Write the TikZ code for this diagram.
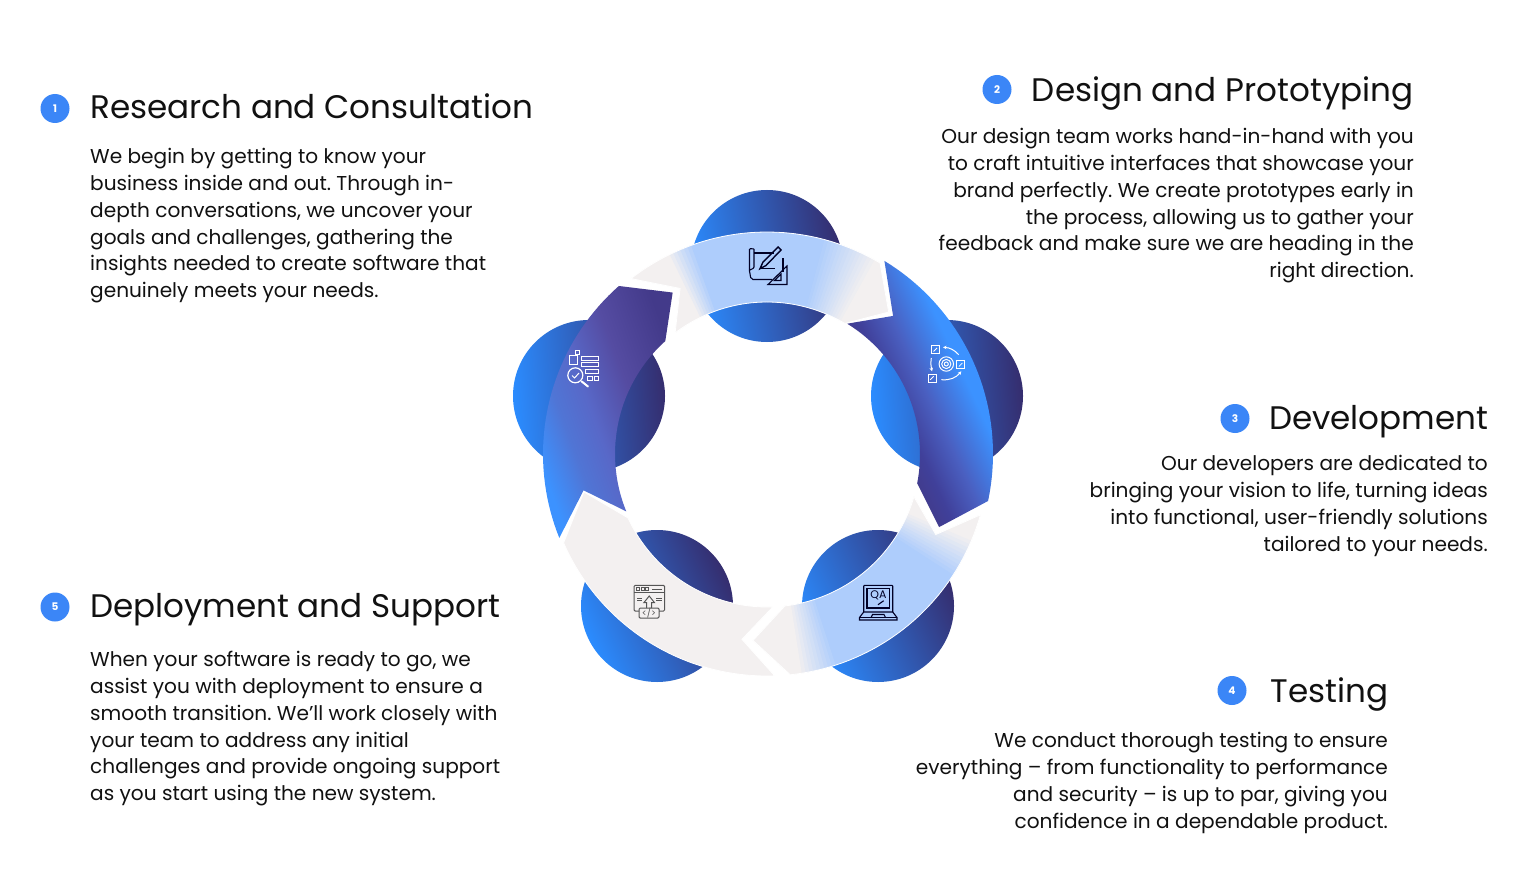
\documentclass[tikz,border=0pt]{standalone}
\usepackage{fontspec}
\usetikzlibrary{arrows.meta}
\setmainfont{Poppins}
\definecolor{inkc}{HTML}{111111}
\definecolor{badgec}{HTML}{3B86F7}
\definecolor{brightc}{HTML}{2B8CFF}
\definecolor{midc}{HTML}{3F57B8}
\definecolor{darkc}{HTML}{352D6E}
\definecolor{abright}{HTML}{3C92FF}
\definecolor{adark}{HTML}{423A88}
\definecolor{rarrowa}{HTML}{40409A}
\definecolor{rarrowb}{HTML}{4A5FC0}
\definecolor{larrowa}{HTML}{5075D5}
\definecolor{larrowb}{HTML}{5868C8}
\definecolor{larrowc}{HTML}{554CA2}
\definecolor{larrowd}{HTML}{433A8A}
\definecolor{paperc}{HTML}{F3F0F0}
\definecolor{skyc}{HTML}{AECDFC}
\definecolor{greyicon}{HTML}{555555}
\pgfdeclarehorizontalshading{rightarrowshade}{100bp}{color(0bp)=(adark); color(42bp)=(adark); color(46bp)=(rarrowa); color(51bp)=(rarrowb); color(58bp)=(abright); color(100bp)=(abright)}
\pgfdeclarehorizontalshading{leftarrowshade}{100bp}{color(0bp)=(abright); color(37bp)=(abright); color(43bp)=(larrowa); color(48bp)=(larrowb); color(55bp)=(larrowc); color(64bp)=(larrowd); color(100bp)=(larrowd)}
\newcommand{\ArrowPath}[8]{plot[domain=#3:#6,samples=40,variable=\x] ({767+#1*sin(\x)},{454-#1*cos(\x)}) -- ({767+187*sin(#7)},{454-187*cos(#7)}) -- plot[domain=#8:#5,samples=40,variable=\x] ({767+#2*sin(\x)},{454-#2*cos(\x)}) -- ({767+187*sin(#4)},{454-187*cos(#4)}) -- cycle}
\tikzset{
  ball/.style={left color=brightc,middle color=midc,right color=darkc},
  heading/.style={inner sep=0pt,text=inkc,font=\fontsize{32.6}{40}\selectfont\frenchspacing},
  bodyl/.style={inner sep=0pt,text=inkc,align=left,anchor=north west,font=\fontsize{20.1}{26.85}\selectfont\frenchspacing},
  bodyr/.style={inner sep=0pt,text=inkc,align=right,anchor=north east,font=\fontsize{20.1}{26.85}\selectfont\frenchspacing},
  badge/.style={circle,fill=badgec,minimum size=29pt,inner sep=0pt,text=white,font=\fontsize{10.5}{10.5}\bfseries\selectfont},
  iconw/.style={draw=white,line width=1pt,fill=none},
  icond/.style={draw=black!85!blue,line width=1.1pt,fill=none},
  icong/.style={draw=greyicon,line width=1pt,fill=none},
}
\begin{document}
\begin{tikzpicture}[x=1pt,y=-1pt]
\useasboundingbox (0,0) rectangle (1536,896);
\fill[white] (0,0) rectangle (1536,896);
% circles
\shade[ball,shading angle=100] (767,266) circle (76);
\shade[ball,shading angle=95] (947,396) circle (76);
\shade[ball,shading angle=115] (878,606) circle (76);
\shade[ball,shading angle=115] (657,606) circle (76);
\shade[ball,shading angle=95] (589,396) circle (76);
% left arrow
\begin{scope}
\clip \ArrowPath{224}{152}{248}{258.8}{247.8}{318.6}{329.7}{318};
\shade[shading=leftarrowshade,shading angle=20] (450,250) rectangle (750,550);
\end{scope}
% right arrow
\begin{scope}
\clip \ArrowPath{226}{153}{31.3}{42.4}{31.6}{102}{113}{101};
\shade[shading=rightarrowshade,shading angle=25] (770,245) rectangle (1070,545);
\end{scope}
% bottom-left arrow
\fill[paperc,draw=white,line width=0.8pt] \ArrowPath{222}{153}{178}{187.7}{177.8}{246.4}{258.3}{245.3};
% top arrow
\begin{scope}
\clip \ArrowPath{222}{152}{-37.8}{-27.7}{-37.2}{30.6}{40.6}{30.8};
\foreach \a in {-46,-45,...,46}{
  \pgfmathsetmacro{\t}{\a<-27?0:(\a<-20?(\a+27)/7*100:(\a<14?100:(\a<29?(29-\a)/15*100:0)))}
  \colorlet{slicec}{skyc!\t!paperc}
  \fill[slicec] (767,454) -- ({767+270*sin(\a)},{454-270*cos(\a)}) -- ({767+270*sin(\a+1.6)},{454-270*cos(\a+1.6)}) -- cycle;
}
\end{scope}
\draw[white,line width=0.8pt] \ArrowPath{222}{152}{-37.8}{-27.7}{-37.2}{30.6}{40.6}{30.8};
% bottom-right arrow
\begin{scope}
\clip \ArrowPath{222}{153}{105.9}{115.5}{106.2}{174}{184.3}{173.3};
\foreach \a in {98,99,...,190}{
  \pgfmathsetmacro{\t}{\a<112?0:(\a<123?(\a-112)/11*100:(\a<161?100:(\a<171?(171-\a)/10*100:0)))}
  \colorlet{slicec}{skyc!\t!paperc}
  \fill[slicec] (767,454) -- ({767+270*sin(\a)},{454-270*cos(\a)}) -- ({767+270*sin(\a+1.6)},{454-270*cos(\a+1.6)}) -- cycle;
}
\end{scope}
\draw[white,line width=0.8pt] \ArrowPath{222}{153}{105.9}{115.5}{106.2}{174}{184.3}{173.3};
% icon: drafting (top)
\draw[icond,rounded corners=1pt] (754,249) -- (749.5,248.5) -- (749.5,271) (754,249) -- (754,268) -- (750,270);
\draw[icond,rounded corners=2pt] (749.5,271) -- (751,279.5) -- (772,279.5);
\draw[icond] (754,253) -- (774,253);
\draw[icond] (783,258) -- (783,272);
\draw[icond] (760,268.7) -- (775,268.7);
\draw[icond,line width=1.4pt] (760,268.7) -- (763,262) -- (778,247) -- (781,250) -- (766,265.5) -- cycle;
\draw[icond] (787,266) -- (787,284.5) -- (768,284.5) -- cycle;
\draw[icond] (781,274) -- (781,280.5) -- (774.5,280.5) -- cycle;
% icon: cycle (right)
\draw[iconw] (931.3,345.7) rectangle (939.3,353.7);
\draw[iconw] (956.7,360.7) rectangle (964.7,368.7);
\draw[iconw] (928,374) rectangle (936,382);
\draw[iconw,line width=.8pt] (933.5,351.5) -- (937,348) (958.9,366.5) -- (962.4,363) (930.2,379.8) -- (933.7,376.3);
\draw[iconw] (946.3,364) circle (7.2);
\draw[iconw] (946.3,364) circle (4.6);
\draw[iconw] (946.3,364) circle (2);
\draw[iconw,-{Stealth[length=3.5pt,width=3.5pt]}] (958.7,354.7) to[bend right=22] (943,347.3);
\draw[iconw,-{Stealth[length=3.5pt,width=3.5pt]}] (931.3,358) to[bend right=10] (932,371.3);
\draw[iconw,-{Stealth[length=3.5pt,width=3.5pt]}] (941.3,379.7) to[bend right=28] (961.3,371.3);
% icon: research (left)
\draw[iconw] (575.2,350) rectangle (579.5,354.3);
\draw[iconw] (569.2,355.5) rectangle (577,364.5);
\draw[iconw] (581,356) rectangle (598.5,360.3);
\draw[iconw] (581,362.5) rectangle (598.5,366.8);
\draw[iconw] (585,369) rectangle (598.5,373.3);
\draw[iconw] (587.5,376) rectangle (592,380.5);
\draw[iconw] (594,376) rectangle (598.5,380.5);
\draw[iconw,line width=1.2pt] (575.3,375.3) circle (7.5);
\draw[iconw] (572,375.5) -- (574.5,378) -- (579,373);
\draw[iconw,line width=2pt,line cap=round] (581.5,381.3) -- (588,386.5);
% icon: deploy (bottom-left)
\draw[icong,rounded corners=1.2pt] (639,611) -- (634,611) -- (634,585.3) -- (664.7,585.3) -- (664.7,611) -- (659,611);
\draw[icong] (634,592) -- (664.7,592);
\draw[icong,line width=.8pt] (636.5,587.5) rectangle (639.5,590) (641,587.5) rectangle (644,590) (645.5,587.5) rectangle (648.5,590);
\draw[icong] (652,589) -- (661.5,589);
\draw[icong] (637,598) -- (642,598) (637,600.5) -- (642,600.5) (656,598) -- (661.5,598) (656,600.5) -- (661.5,600.5);
\draw[icong] (646.7,608) -- (646.7,602.5) -- (644,602.5) -- (649.2,596) -- (654.4,602.5) -- (651.7,602.5) -- (651.7,608);
\draw[icong,rounded corners=1.2pt] (639,608) rectangle (659,618);
\node[inner sep=0pt,text=greyicon,font=\fontsize{9}{9}\selectfont] (code) at (649,613) {</>};
% icon: QA laptop (bottom-right)
\draw[icond,rounded corners=.8pt] (863.7,612) -- (863.7,585.3) -- (892.7,585.3) -- (892.7,612);
\draw[icond] (867,588.7) rectangle (889.3,608);
\node[inner sep=0pt,text=black!85!blue,font=\fontsize{11}{11}\selectfont] (qa) at (878.5,595) {QA};
\draw[icond] (878,604.7) -- (883.7,600.7);
\draw[icond] (863.7,612) -- (859.5,617.5) -- (859.5,620) -- (897,620) -- (897,617.5) -- (892.7,612) -- cycle;
\draw[icond] (871,617.5) -- (872.5,614.5) -- (884,614.5) -- (885.5,617.5);
\draw[icond] (859.5,617.5) -- (897,617.5);
% block 1
\node[badge] (b1) at (55,108.5) {1};
\node[heading,anchor=base west] (t1) at (90,118.5) {Research and Consultation};
\node[bodyl] (p1) at (90,148) {We begin by getting to know your\\business inside and out. Through in-\\depth conversations, we uncover your\\goals and challenges, gathering the\\insights needed to create software that\\genuinely meets your needs.};
% block 2
\node[badge] (b2) at (997,89.5) {2};
\node[heading,anchor=base east] (t2) at (1413.5,101.5) {Design and Prototyping};
\node[bodyr] (p2) at (1414,128) {Our design team works hand-in-hand with you\\to craft intuitive interfaces that showcase your\\brand perfectly. We create prototypes early in\\the process, allowing us to gather your\\feedback and make sure we are heading in the\\right direction.};
% block 3
\node[badge] (b3) at (1235,418.5) {3};
\node[heading,anchor=base east] (t3) at (1488.5,429.5) {Development};
\node[bodyr] (p3) at (1488,455) {Our developers are dedicated to\\bringing your vision to life, turning ideas\\into functional, user-friendly solutions\\tailored to your needs.};
% block 4
\node[badge] (b4) at (1232,690.5) {4};
\node[heading,anchor=base east] (t4) at (1388.5,702.5) {Testing};
\node[bodyr] (p4) at (1388,732) {We conduct thorough testing to ensure\\everything – from functionality to performance\\and security – is up to par, giving you\\confidence in a dependable product.};
% block 5
\node[badge] (b5) at (55,607) {5};
\node[heading,anchor=base west] (t5) at (90,617) {Deployment and Support};
\node[bodyl] (p5) at (90,651) {When your software is ready to go, we\\assist you with deployment to ensure a\\smooth transition. We’ll work closely with\\your team to address any initial\\challenges and provide ongoing support\\as you start using the new system.};
\end{tikzpicture}
\end{document}
